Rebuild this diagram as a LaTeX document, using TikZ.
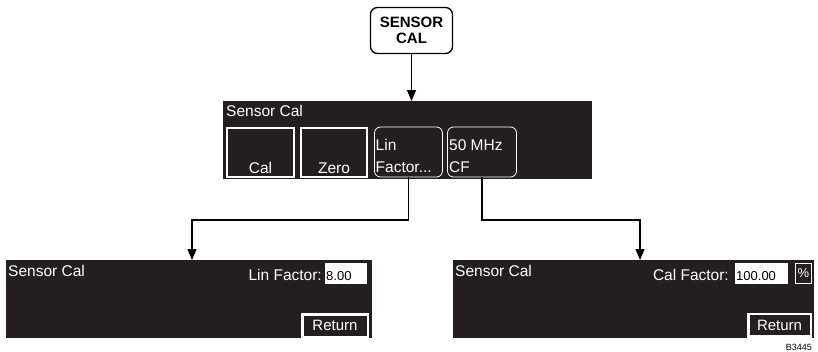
\documentclass[tikz,border=0pt]{standalone}
\usepackage{fontspec}
\setmainfont{Liberation Sans}
\usetikzlibrary{arrows.meta,calc}
\definecolor{scr}{HTML}{231F20}
\begin{document}
\begin{tikzpicture}[x=1pt,y=-1pt,
  sensorbox/.style={draw=black,line width=1.3pt,rounded corners=7pt,fill=white,
    minimum width=82pt,minimum height=46pt,align=center,inner sep=0pt,
    font=\bfseries\fontsize{15}{16.5}\selectfont},
  screen/.style={fill=scr,draw=none,minimum width=#1,minimum height=78pt,inner sep=0pt,outer sep=0pt},
  scrtext/.style={text=white,inner sep=0pt,font=\fontsize{15.5}{17}\selectfont},
  sqbtn/.style={draw=white,line width=2pt,fill=scr,minimum width=#1,minimum height=49pt,inner sep=0pt,outer sep=0pt},
  rndbtn/.style={draw=white,line width=0.8pt,rounded corners=6pt,fill=scr,minimum width=#1,minimum height=50pt,inner sep=0pt,outer sep=0pt},
  field/.style={fill=white,draw=none,minimum width=#1,minimum height=21pt,inner sep=0pt},
  fieldtext/.style={text=black,inner sep=0pt,font=\fontsize{13}{14}\selectfont},
  retbtn/.style={draw=white,line width=2.5pt,fill=scr,text=white,minimum width=#1,minimum height=22.5pt,inner sep=0pt,
    font=\fontsize{15}{16}\selectfont},
  conn/.style={draw=black,line width=1.3pt,-{Triangle[width=9pt,length=11pt]}}
]
\useasboundingbox (0,0) rectangle (818,351);

% top key
\node[sensorbox] (sensor) at (411.5,30.5) {SENSOR\\CAL};

% top screen
\node[screen=369pt] (top) at (407.5,140) {};
\node[scrtext,anchor=base west] (toptitle) at (226,116) {Sensor Cal};
\node[sqbtn=67pt] (cal) at (260.5,152.5) {};
\node[scrtext,anchor=base] (caltxt) at (260.5,173) {Cal};
\node[sqbtn=66pt] (zero) at (334,152.5) {};
\node[scrtext,anchor=base] (zerotxt) at (334,173) {Zero};
\node[rndbtn=68pt] (lin) at (408.5,152) {};
\node[scrtext,anchor=base west] (lintxt1) at (375.5,150) {Lin};
\node[scrtext,anchor=base west] (lintxt2) at (375.5,172) {Factor...};
\node[rndbtn=69pt] (cf) at (482,152) {};
\node[scrtext,anchor=base west] (cftxt1) at (449,150) {50 MHz};
\node[scrtext,anchor=base west] (cftxt2) at (449,172) {CF};

% left screen
\node[screen=366pt] (left) at (189,299) {};
\node[scrtext,anchor=base west] (lefttitle) at (8,276) {Sensor Cal};
\node[scrtext,anchor=base east] (linlabel) at (322,280) {Lin Factor:};
\node[field=42pt] (linfield) at (346,273) {};
\node[fieldtext,anchor=base west] (linval) at (326,280) {8.00};
\node[retbtn=65.5pt] (retl) at (335,325.5) {Return};

% right screen
\node[screen=361pt] (right) at (633.5,299) {};
\node[scrtext,anchor=base west] (righttitle) at (455,276) {Sensor Cal};
\node[scrtext,anchor=base east] (callabel) at (729,280) {Cal Factor:};
\node[field=53pt] (calfield) at (761.5,273.5) {};
\node[fieldtext,anchor=base west] (calval) at (736,280) {100.00};
\node[draw=white,line width=1.3pt,fill=scr,text=white,minimum width=15.5pt,minimum height=19.5pt,inner sep=0pt,
  font=\fontsize{13}{14}\selectfont] (pct) at (803.5,273.5) {\%};
\node[retbtn=62.5pt] (retr) at (779.5,325) {Return};

% id
\node[anchor=base east,inner sep=0pt,font=\fontsize{9}{10}\selectfont] (fig) at (812,350) {B3445};

% connectors
\draw[conn] (sensor.south) -- (sensor.south |- top.north);
\draw[conn] (lin.south) -- ++(0,43) -| ([xshift=3pt]left.north);
\draw[conn] (cf.south) -- ++(0,43) -| ([xshift=6.5pt]right.north);
\end{tikzpicture}
\end{document}
